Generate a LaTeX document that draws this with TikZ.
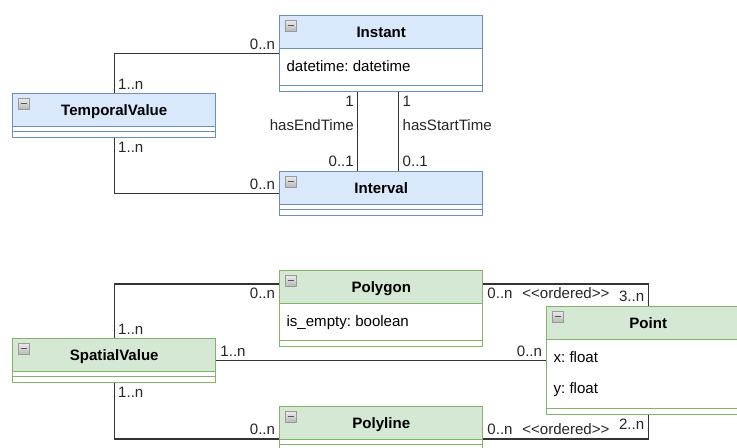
\documentclass[tikz,border=0pt]{standalone}
\usepackage{fontspec}
\setmainfont{Liberation Sans}
\frenchspacing

\definecolor{bluefill}{HTML}{DAE8FC}
\definecolor{blueline}{HTML}{6C8EBF}
\definecolor{greenfill}{HTML}{D5E8D4}
\definecolor{greenline}{HTML}{82B366}

\newcommand{\stereo}[1]{<\kern0pt<#1>\kern0pt>}

\tikzset{
  % class frame: header band on top, thin methods band at the bottom
  umlclass/.style={draw=#1line, line width=1.1pt, fill=white,
    minimum width=152.25pt, inner sep=0pt, anchor=north west,
    path picture={
      \fill[#1fill] (path picture bounding box.north west)
        rectangle ([yshift=-24.75pt]path picture bounding box.north east);
      \draw[#1line, line width=1.1pt]
        ([yshift=-24.75pt]path picture bounding box.north west)
        -- ([yshift=-24.75pt]path picture bounding box.north east);
      \draw[#1line, line width=1.1pt]
        ([yshift=4.5pt]path picture bounding box.south west)
        -- ([yshift=4.5pt]path picture bounding box.south east);
    }},
  title/.style={font=\fontsize{11.3}{13}\selectfont\bfseries,
    text height=10.25pt, text depth=2.4pt,
    minimum height=24.75pt, inner sep=0pt, anchor=north},
  attr/.style={font=\fontsize{11.3}{13}\selectfont, inner sep=0pt, anchor=base west},
  assoc/.style={black!80, line width=1pt},
  mult/.style={font=\fontsize{11.3}{13}\selectfont, text=black!85, inner sep=2.5pt},
}

\begin{document}
\begin{tikzpicture}[x=0.75pt, y=-0.75pt]
  \useasboundingbox (0,0) rectangle (737,447);
  \clip (0,0) rectangle (737,447);

  % time classes
  \node[umlclass=blue, minimum height=57pt] (instant) at (279,15) {};
  \node[title] (instant-t) at (instant.north) {Instant};
  \node[attr] (instant-a) at ([xshift=5.5pt,yshift=-42.2pt]instant.north west) {datetime: datetime};

  \node[umlclass=blue, minimum height=33pt] (temporal) at (12,93) {};
  \node[title] (temporal-t) at (temporal.north) {TemporalValue};

  \node[umlclass=blue, minimum height=33pt] (interval) at (279,171) {};
  \node[title] (interval-t) at (interval.north) {Interval};

  % geometry classes
  \node[umlclass=green, minimum height=57pt] (polygon) at (279,270) {};
  \node[title] (polygon-t) at (polygon.north) {Polygon};
  \node[attr] (polygon-a) at ([xshift=5.5pt,yshift=-42.2pt]polygon.north west) {is\_empty: boolean};

  \node[umlclass=green, minimum height=33pt] (spatial) at (12,338) {};
  \node[title] (spatial-t) at (spatial.north) {SpatialValue};

  \node[umlclass=green, minimum height=81pt] (point) at (546,306) {};
  \node[title] (point-t) at (point.north) {Point};
  \node[attr] (point-x) at ([xshift=5.5pt,yshift=-42.2pt]point.north west) {x: float};
  \node[attr] (point-y) at ([yshift=-23.25pt]point-x.base west) {y: float};

  \node[umlclass=green, minimum height=33pt] (polyline) at (279,406) {};
  \node[title] (polyline-t) at (polyline.north) {Polyline};

  % collapse buttons
  \foreach \c in {instant,temporal,interval,polygon,spatial,point,polyline} {
    \draw[gray!80, top color=gray!15, bottom color=gray!55, line width=0.5pt]
      ([xshift=4.5pt,yshift=-3.75pt]\c.north west) rectangle ++(11,11);
    \draw[black!65, line width=1.4pt]
      ([xshift=6.4pt,yshift=-7.9pt]\c.north west) -- ++(6.5,0);
  }

  % associations, time
  \draw[assoc] (temporal.north) |- (instant.west)
    node[mult, pos=0, above right] {1..n}
    node[mult, pos=1, above left] {0..n};
  \draw[assoc] (temporal.south) |- (interval.west)
    node[mult, pos=0, below right] {1..n}
    node[mult, pos=1, above left] {0..n};
  \draw[assoc] ([xshift=-17.6pt]instant.south) -- ([xshift=-17.6pt]interval.north)
    node[mult, pos=0, below left] {1}
    node[mult, pos=0.41, left] {hasEndTime}
    node[mult, pos=1, above left] {0..1};
  \draw[assoc] ([xshift=13.1pt]instant.south) -- ([xshift=13.1pt]interval.north)
    node[mult, pos=0, below right] {1}
    node[mult, pos=0.41, right] {hasStartTime}
    node[mult, pos=1, above right] {0..1};

  % associations, geometry
  \draw[assoc] (spatial.north) |- ([yshift=-10.5pt]polygon.north west)
    node[mult, pos=0, above right] {1..n}
    node[mult, pos=1, below left] {0..n};
  \draw[assoc] (spatial.east) -- (spatial.east -| point.west)
    node[mult, pos=0, above right] {1..n}
    node[mult, pos=1, above left] {0..n};
  \draw[assoc] (spatial.south) |- ([yshift=-24.75pt]polyline.north west)
    node[mult, pos=0, below right] {1..n}
    node[mult, pos=1, above left] {0..n};
  \draw[assoc] ([yshift=-10.5pt]polygon.north east) -| (point.north)
    node[mult, pos=0, below right] {0..n}
    node[mult, pos=0.25, below] {\stereo{ordered}}
    node[mult, pos=1, above left] {3..n};
  \draw[assoc] ([yshift=-24.75pt]polyline.north east) -| (point.south)
    node[mult, pos=0, above right] {0..n}
    node[mult, pos=0.25, above] {\stereo{ordered}}
    node[mult, pos=1, below left] {2..n};
\end{tikzpicture}
\end{document}
